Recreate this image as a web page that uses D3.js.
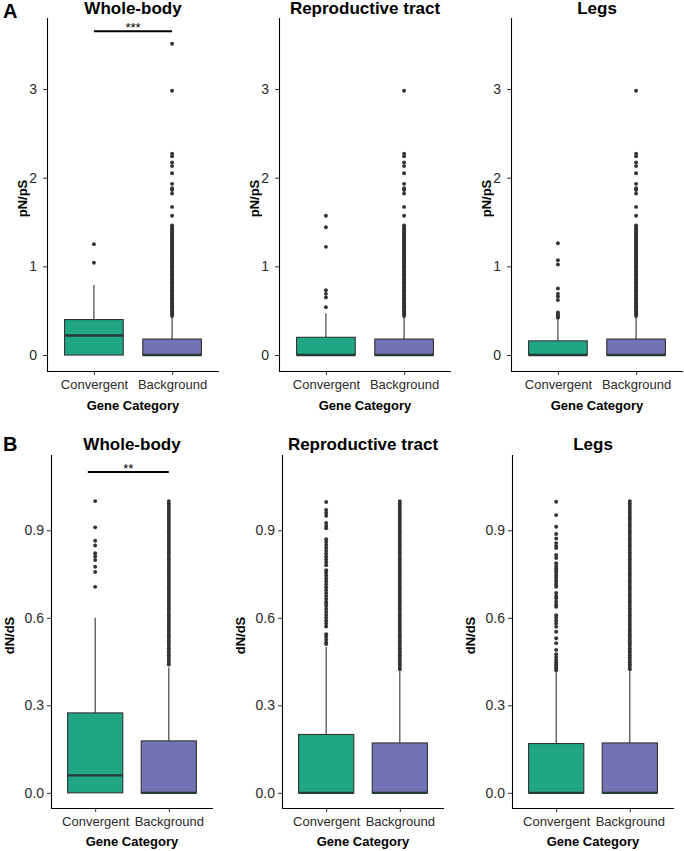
<!DOCTYPE html>
<html><head><meta charset="utf-8">
<script src="https://cdn.jsdelivr.net/npm/d3@7/dist/d3.min.js"></script>
<style>body{margin:0;background:#fff}svg{display:block}text{font-family:"Liberation Sans",Arial,sans-serif}</style>
</head><body>
<svg id="c" width="684" height="851"></svg>
<script>
const categories = ["Convergent", "Background"];
const panelTitles = ["Whole-body", "Reproductive tract", "Legs"];
const pnpsTicks = [0, 1, 2, 3];
const dndsTicks = [0, 0.3, 0.6, 0.9];

// box stats: [lowerWhisker, q1, median, q3, upperWhisker]
const pnpsConvStats = [[0, 0, 0.22, 0.40, 0.79], [0, 0, 0, 0.20, 0.47], [0, 0, 0, 0.16, 0.40]];
const pnpsBgStats   = [[0, 0, 0, 0.18, 0.43], [0, 0, 0, 0.18, 0.43], [0, 0, 0, 0.18, 0.43]];
const dndsConvStats = [[0, 0, 0.06, 0.274, 0.60], [0, 0, 0, 0.20, 0.50], [0, 0, 0, 0.169, 0.415]];
const dndsBgStats   = [[0, 0, 0, 0.178, 0.43], [0, 0, 0, 0.171, 0.42], [0, 0, 0, 0.171, 0.42]];

// outliers
const pnpsConvOutWB = [1.25, 1.04];
const pnpsConvOutRT = [1.57, 1.44, 1.22, 0.73, 0.69, 0.65, 0.54];
const pnpsConvOutLegs = [1.26, 1.07, 1.02, 0.75, 0.69, 0.66, 0.62, 0.48, 0.46, 0.45, 0.43, 0.42];
const pnpsBgOutCommon = [2.98, 2.27, 2.24, 2.17, 2.13, 2.05, 1.93, 1.88, 1.86, 1.82, 1.67, 1.57,
  1.46, 1.45, 1.43, 1.42, 1.40, 1.39, 1.37, 1.36, 1.34, 1.33, 1.31, 1.30, 1.28, 1.27, 1.25, 1.24,
  1.22, 1.21, 1.19, 1.18, 1.16, 1.15, 1.13, 1.12, 1.10, 1.09, 1.07, 1.06, 1.04, 1.03, 1.01, 1.00,
  0.98, 0.97, 0.95, 0.94, 0.92, 0.91, 0.89, 0.88, 0.86, 0.85, 0.83, 0.82, 0.80, 0.79, 0.77, 0.76,
  0.74, 0.73, 0.71, 0.70, 0.68, 0.67, 0.65, 0.64, 0.62, 0.61, 0.59, 0.58, 0.56, 0.55, 0.53, 0.52,
  0.50, 0.49, 0.47, 0.46, 0.44];
const pnpsBgOutWBExtra = [3.51];

const dndsConvOutWB = [1.00, 0.91, 0.864, 0.848, 0.821, 0.811, 0.798, 0.775, 0.757, 0.706];
const dndsConvOutRT = [0.997, 0.97, 0.96, 0.95, 0.925, 0.915, 0.907, 0.869, 0.86, 0.85, 0.84, 0.83,
  0.82, 0.81, 0.80, 0.79, 0.78, 0.763, 0.755, 0.745, 0.735, 0.725, 0.715, 0.705, 0.695, 0.685, 0.675,
  0.665, 0.655, 0.649, 0.64, 0.63, 0.62, 0.61, 0.60, 0.59, 0.58, 0.57, 0.544, 0.535, 0.525, 0.515, 0.51];
const dndsConvOutLegs = [0.998, 0.952, 0.912, 0.887, 0.872, 0.856, 0.846, 0.839, 0.815, 0.805, 0.787,
  0.778, 0.77, 0.762, 0.754, 0.745, 0.737, 0.728, 0.72, 0.712, 0.706, 0.685, 0.675, 0.667, 0.655,
  0.645, 0.638, 0.609, 0.60, 0.59, 0.58, 0.569, 0.552, 0.53, 0.513, 0.49, 0.475, 0.465, 0.455,
  0.448, 0.442, 0.436, 0.43, 0.425, 0.42];
const dndsBgOutCommon = [1.000, 0.992, 0.984, 0.976, 0.968, 0.960, 0.952, 0.944, 0.936, 0.928, 0.920,
  0.912, 0.904, 0.896, 0.888, 0.880, 0.872, 0.864, 0.856, 0.848, 0.840, 0.832, 0.824, 0.816, 0.808,
  0.800, 0.792, 0.784, 0.776, 0.768, 0.760, 0.752, 0.744, 0.736, 0.728, 0.720, 0.712, 0.704, 0.696,
  0.688, 0.680, 0.672, 0.664, 0.656, 0.648, 0.640, 0.632, 0.624, 0.616, 0.608, 0.600, 0.592, 0.584,
  0.576, 0.568, 0.560, 0.552, 0.544, 0.536, 0.528, 0.520, 0.512, 0.504, 0.496, 0.488, 0.480, 0.472,
  0.464, 0.456, 0.448, 0.440];
const dndsBgOutLowExtra = [0.432, 0.424];

// significance annotations (Whole-body only): [xStart, xEnd, y, label]
const pnpsSig = [1, 2, 3.65, "***"];
const dndsSig = [0.9, 2, 1.10, "**"];

const colors = ["#21A683", "#7471B5"];
const svg = d3.select("#c");
const font = '"Liberation Sans",Arial,sans-serif';

function drawPanel(o) {
  const g = svg.append("g");
  const x = d3.scaleLinear().domain([0.4, 2.6]).range([o.ox, o.ox + o.W]);
  const y = d3.scaleLinear().domain(o.domain).range([o.bottom, o.top]);
  const bw = x(0.75) - x(0);

  // axes
  const ya = d3.axisLeft(y).tickValues(o.ticks).tickFormat(o.fmt).tickSize(4).tickPadding(o.pad);
  const yg = g.append("g").attr("transform", `translate(${o.ox},0)`).call(ya);
  const xa = d3.axisBottom(x).tickValues([1, 2]).tickFormat((d, i) => categories[i]).tickSize(4).tickPadding(5);
  const xg = g.append("g").attr("transform", `translate(0,${o.bottom})`).call(xa);
  [yg, xg].forEach(a => {
    a.select(".domain").attr("stroke", "#000").attr("stroke-width", 1.1).attr("d",
      a === yg ? `M0.5,${o.top}V${o.bottom}` : `M${o.ox},0.5H${o.ox + o.W}`);
    a.selectAll(".tick line").attr("stroke", "#333").attr("stroke-width", 1);
    a.selectAll(".tick text").attr("fill", "#2b2b2b").style("font-size", a === yg ? "14px" : "13px").style("font-family", font);
  });

  // boxes
  o.stats.forEach((s, i) => {
    const cx = x(i + 1);
    g.append("line").attr("x1", cx).attr("x2", cx).attr("y1", y(s[4])).attr("y2", y(s[3]))
      .attr("stroke", "#333").attr("stroke-width", 1.1);
    g.append("line").attr("x1", cx).attr("x2", cx).attr("y1", y(s[1])).attr("y2", y(s[0]))
      .attr("stroke", "#333").attr("stroke-width", 1.1);
    g.append("rect").attr("x", cx - bw / 2).attr("width", bw).attr("y", y(s[3]))
      .attr("height", y(s[1]) - y(s[3])).attr("fill", colors[i]).attr("stroke", "#333").attr("stroke-width", 1.1);
    g.append("line").attr("x1", cx - bw / 2).attr("x2", cx + bw / 2).attr("y1", y(s[2])).attr("y2", y(s[2]))
      .attr("stroke", "#243b35").attr("stroke-width", 2.4);
    g.selectAll(null).data(o.outliers[i]).enter().append("circle")
      .attr("cx", cx).attr("cy", d => y(d)).attr("r", 1.95).attr("fill", "#333");
  });

  // title
  g.append("text").attr("x", o.ox + o.W / 2).attr("y", o.titleY).attr("text-anchor", "middle")
    .style("font-size", "17px").style("font-weight", "bold").style("font-family", font).text(o.title);
  // axis titles
  g.append("text").attr("transform", `translate(${o.ox - o.ylabOff},${(o.top + o.bottom) / 2 + 4}) rotate(-90)`)
    .attr("text-anchor", "middle").style("font-size", "13px").style("font-weight", "bold").style("font-family", font).text(o.ylab);
  g.append("text").attr("x", o.ox + o.W / 2).attr("y", o.bottom + o.xlabOff).attr("text-anchor", "middle")
    .style("font-size", "13px").style("font-weight", "bold").style("font-family", font).text("Gene Category");

  if (o.sig) {
    g.append("line").attr("x1", x(o.sig[0])).attr("x2", x(o.sig[1])).attr("y1", y(o.sig[2])).attr("y2", y(o.sig[2]))
      .attr("stroke", "#000").attr("stroke-width", 2);
    g.append("text").attr("x", (x(o.sig[0]) + x(o.sig[1])) / 2).attr("y", y(o.sig[2]) + 1).attr("text-anchor", "middle")
      .style("font-size", "13px").style("font-family", font).text(o.sig[3]);
  }
}

const aX = [47, 279, 511];
const bX = [51, 282, 512];
const pnpsOut = [
  [pnpsConvOutWB, pnpsBgOutWBExtra.concat(pnpsBgOutCommon)],
  [pnpsConvOutRT, pnpsBgOutCommon],
  [pnpsConvOutLegs, pnpsBgOutCommon]
];
const dndsOut = [
  [dndsConvOutWB, dndsBgOutCommon],
  [dndsConvOutRT, dndsBgOutCommon.concat(dndsBgOutLowExtra)],
  [dndsConvOutLegs, dndsBgOutCommon.concat(dndsBgOutLowExtra)]
];

for (let p = 0; p < 3; p++) {
  drawPanel({ ox: aX[p], W: 172, top: 18, bottom: 371, domain: [-0.18, 3.80], ticks: pnpsTicks,
    fmt: d3.format("d"), pad: 6, title: panelTitles[p], titleY: 14, ylab: "pN/pS", ylabOff: 20,
    xlabOff: 39, stats: [pnpsConvStats[p], pnpsBgStats[p]], outliers: pnpsOut[p], sig: p === 0 ? pnpsSig : null });
  drawPanel({ ox: bX[p], W: 162, top: 455, bottom: 808, domain: [-0.052, 1.158], ticks: dndsTicks,
    fmt: d3.format(".1f"), pad: 3, title: panelTitles[p], titleY: 450, ylab: "dN/dS", ylabOff: 37,
    xlabOff: 38, stats: [dndsConvStats[p], dndsBgStats[p]], outliers: dndsOut[p], sig: p === 0 ? dndsSig : null });
}

svg.append("text").attr("x", 3).attr("y", 18).style("font-size", "20px").style("font-weight", "bold").style("font-family", font).text("A");
svg.append("text").attr("x", 3).attr("y", 451).style("font-size", "20px").style("font-weight", "bold").style("font-family", font).text("B");
</script>
</body></html>
